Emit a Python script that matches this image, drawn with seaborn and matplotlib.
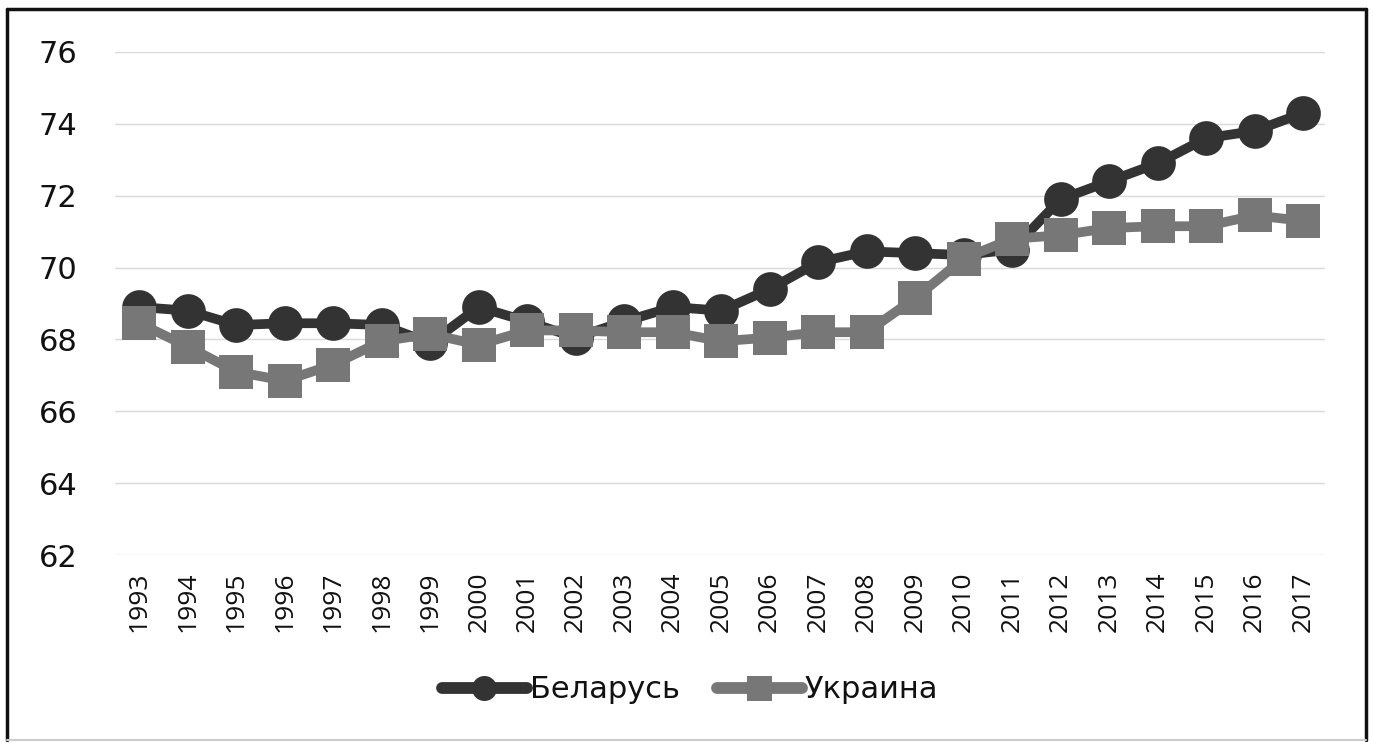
import matplotlib
matplotlib.use("Agg")
import matplotlib.pyplot as plt
from matplotlib.lines import Line2D
import seaborn as sns
import pandas as pd

years = list(range(1993, 2018))
belarus = [68.9, 68.8, 68.4, 68.45, 68.45, 68.4, 67.9, 68.9, 68.5, 68.05,
           68.5, 68.9, 68.8, 69.4, 70.15, 70.45, 70.4, 70.35, 70.5, 71.9,
           72.4, 72.9, 73.6, 73.8, 74.3]
ukraine = [68.45, 67.8, 67.1, 66.85, 67.3, 67.95, 68.15, 67.85, 68.25, 68.25,
           68.2, 68.2, 67.95, 68.05, 68.2, 68.2, 69.15, 70.25, 70.8, 70.9,
           71.1, 71.15, 71.15, 71.45, 71.3]
series_names = ["Беларусь", "Украина"]
y_ticks = [62, 64, 66, 68, 70, 72, 74, 76]

df = pd.DataFrame({
    "year": years * 2,
    "value": belarus + ukraine,
    "country": [series_names[0]] * len(years) + [series_names[1]] * len(years),
})

sns.set_theme(style="white")
plt.rcParams["font.family"] = ["DejaVu Sans"]
plt.rcParams["text.color"] = "#111111"
plt.rcParams["xtick.labelcolor"] = "#111111"
plt.rcParams["ytick.labelcolor"] = "#111111"

fig = plt.figure(figsize=(13.73, 7.42), dpi=100)
ax = fig.add_axes([0.0838, 0.252, 0.8812, 0.678])

sns.lineplot(
    data=df, x="year", y="value", hue="country", style="country",
    palette={series_names[0]: "#333333", series_names[1]: "#777777"},
    markers={series_names[0]: "o", series_names[1]: "s"},
    dashes=False, linewidth=7, markersize=25, markeredgewidth=0,
    ax=ax, legend=True,
)

ax.set_xlim(1992.5, 2017.45)
ax.set_ylim(62, 76)
ax.set_yticks(y_ticks)
ax.set_xticks(years)
ax.set_xticklabels([str(y) for y in years], rotation=90, fontsize=19,
                   family=["Open Sans", "DejaVu Sans"])
ax.tick_params(axis="y", labelsize=22, pad=27, length=0)
ax.tick_params(axis="x", pad=12, length=0)
ax.set_xlabel("")
ax.set_ylabel("")
ax.grid(axis="y", color="#d9d9d9", linewidth=1)
ax.grid(axis="x", visible=False)
ax.set_axisbelow(True)
for s in ax.spines.values():
    s.set_visible(False)

handles, labels = ax.get_legend_handles_labels()
ax.get_legend().remove()
leg = fig.legend(handles, labels, loc="center",
                 bbox_to_anchor=(690 / 1373, 1 - 690 / 742),
                 ncol=2, frameon=False, fontsize=22, handlelength=2.78,
                 handletextpad=0.1, columnspacing=1.2, markerscale=0.72)
for line in leg.get_lines():
    line.set_linewidth(8.5)
    line.set_solid_capstyle("round")

# outer frame of the figure
W, H = 1373, 742
frame = [((7, 7), (9, 740), "#111111", 2.5),
         ((7, 1366), (9, 9), "#111111", 2.5),
         ((1366, 1366), (9, 740), "#111111", 2.5),
         ((7, 1366), (740, 740), "#cccccc", 1.5)]
for xs, ys, c, lw in frame:
    fig.add_artist(Line2D([x / W for x in xs], [1 - y / H for y in ys],
                          transform=fig.transFigure, color=c, linewidth=lw))

fig.savefig("out.png", dpi=100, facecolor="white")
